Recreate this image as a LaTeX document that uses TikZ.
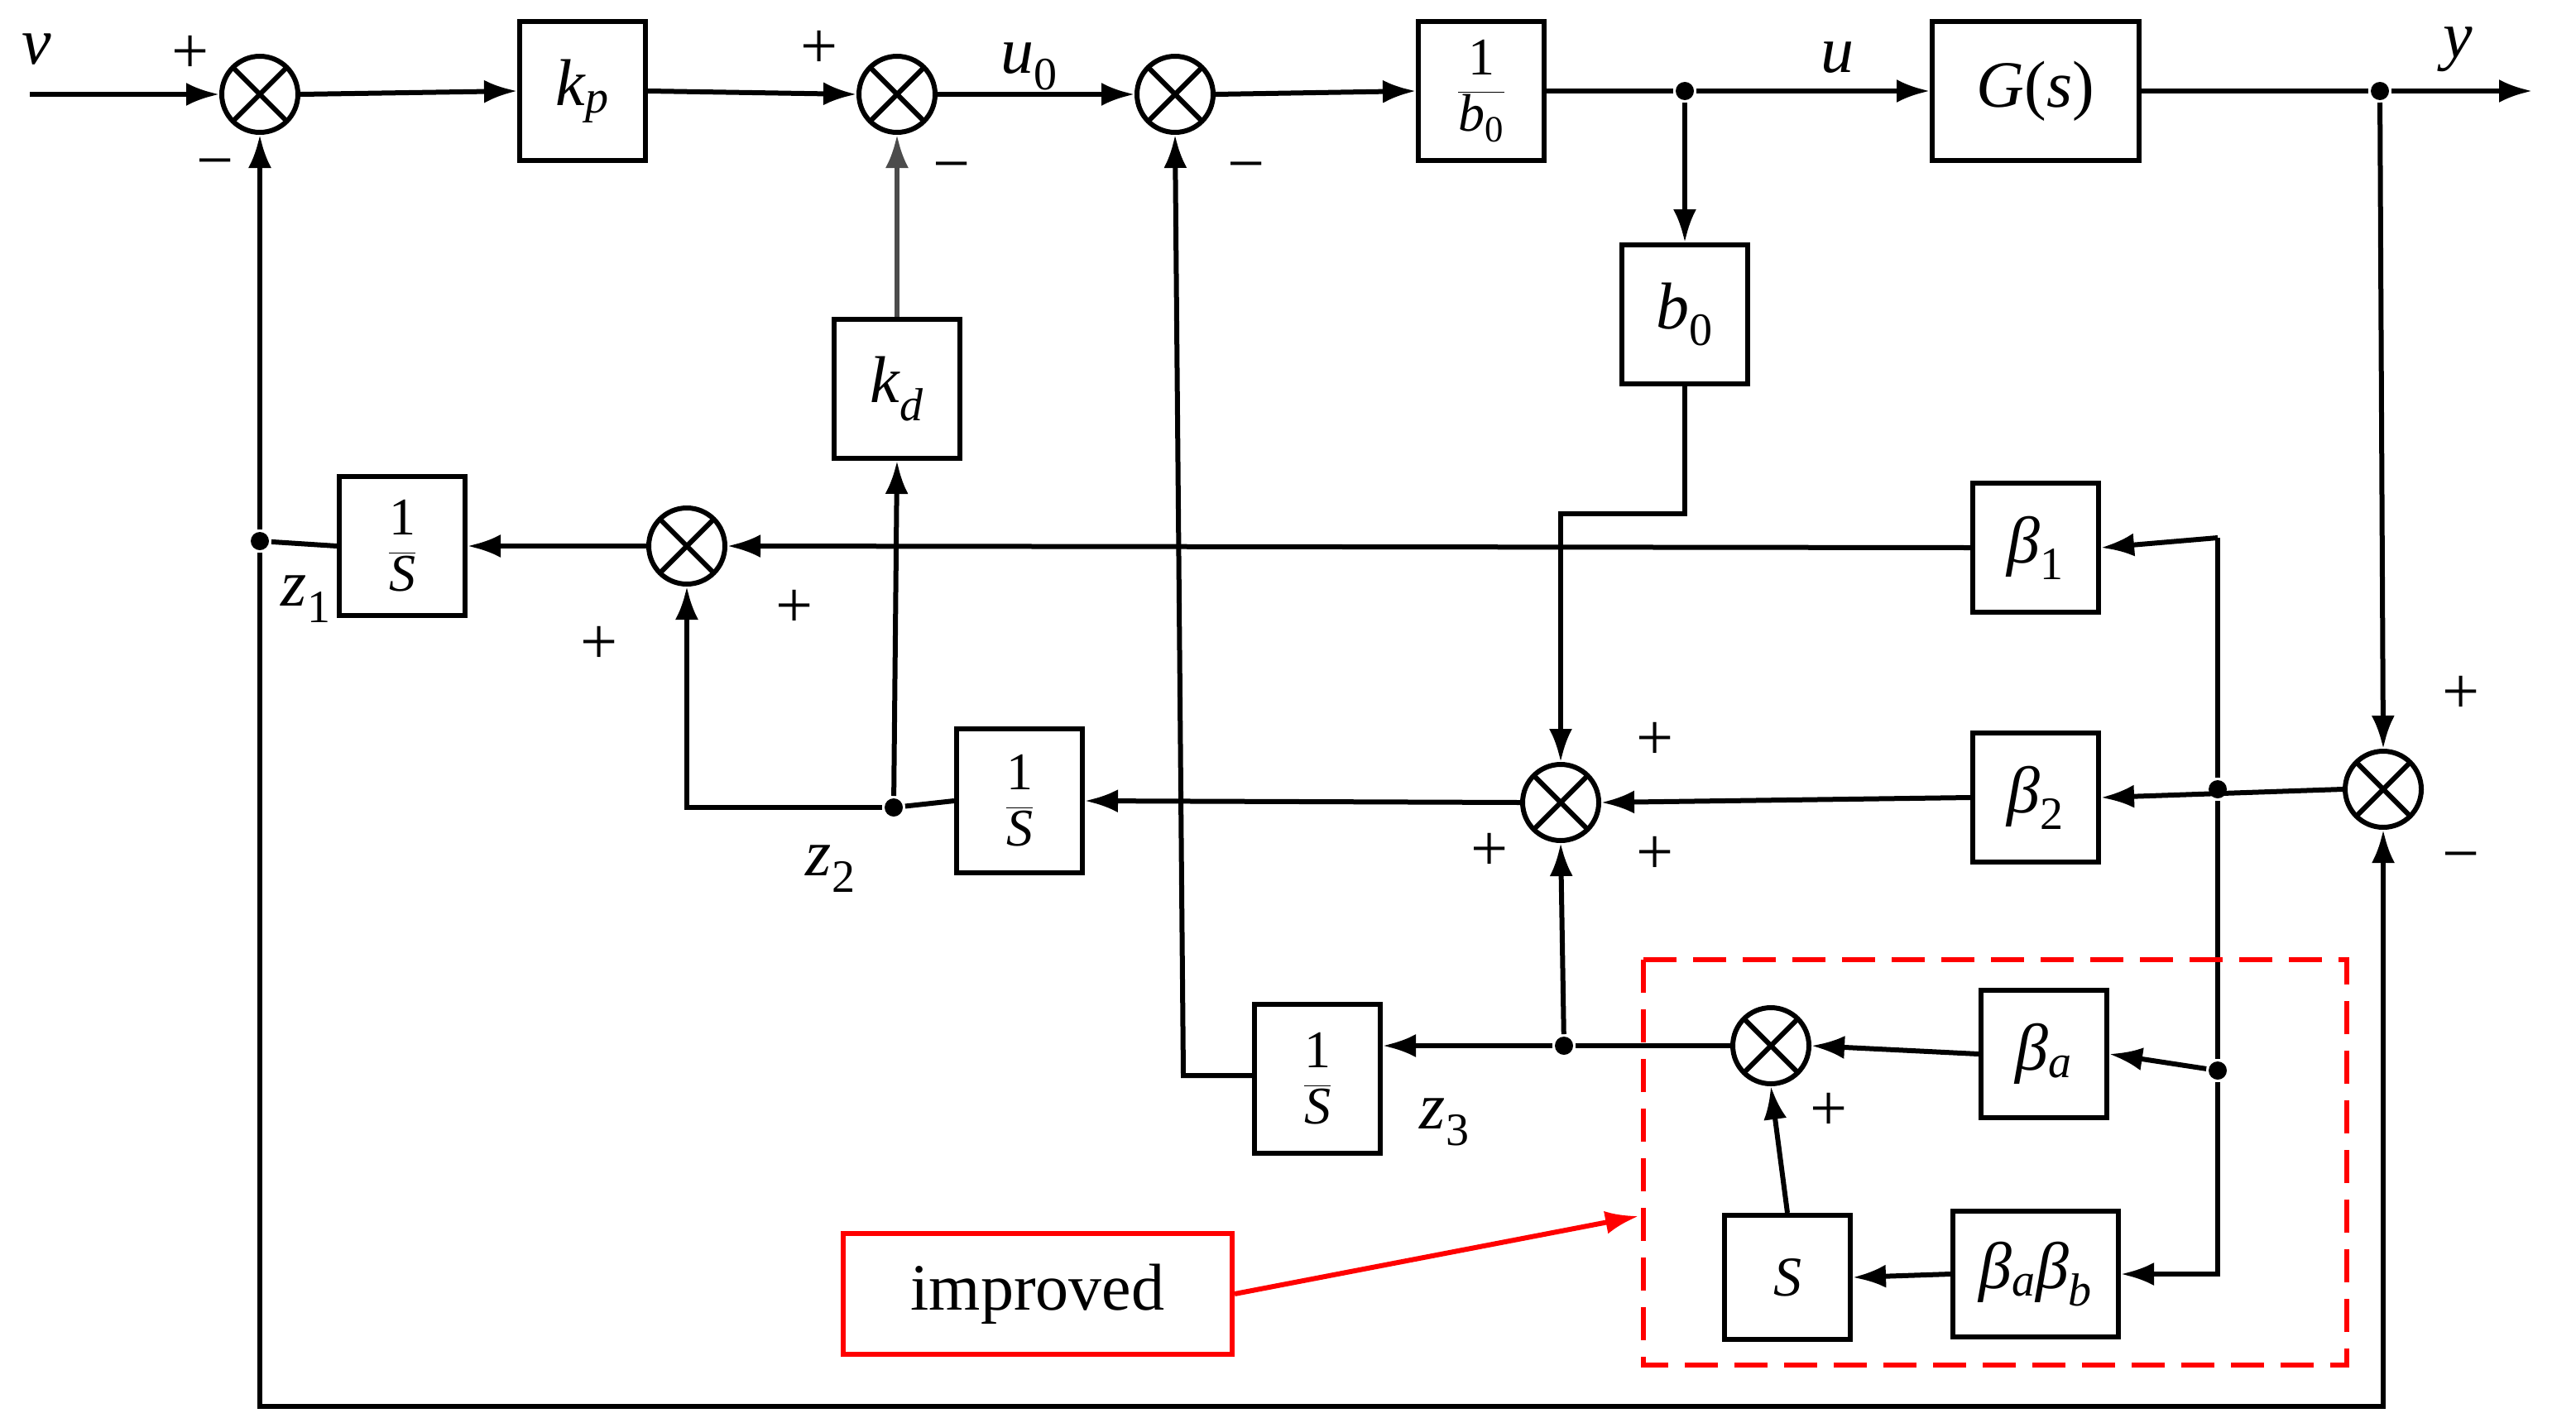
\documentclass[tikz,border=0pt]{standalone}
\usepackage{fontspec}
\setmainfont{Liberation Serif}
\usetikzlibrary{arrows.meta}
\newcommand{\fr}[2]{$\displaystyle\frac{\hbox{#1}}{\hbox{#2}}$}
\newcommand{\vi}[1]{\textit{#1}}
\newcommand{\sbs}[1]{\textsubscript{#1}}
\newcommand{\mns}{\char"2212}
\begin{document}
\begin{tikzpicture}[x=1pt,y=-1pt,line width=3pt,
  font=\fontsize{40}{44}\selectfont,
  arr/.style={-{Latex[length=20pt,width=14pt]}},
  sum/.style={circle,draw,minimum size=46pt,inner sep=0pt,
    path picture={\draw[line width=3pt] (path picture bounding box.north west)--(path picture bounding box.south east)
      (path picture bounding box.north east)--(path picture bounding box.south west);}},
  blk/.style={draw,minimum width=76pt,minimum height=84pt,inner sep=0pt},
  dot/.style={circle,fill,inner sep=0pt,minimum size=11pt},
  lbl/.style={inner sep=0pt}]
\useasboundingbox (0,0) rectangle (1556.5,856.5);
% summers
\node[sum] (s1) at (157,57) {};
\node[sum] (s2) at (542,57) {};
\node[sum] (s3) at (710,57) {};
\node[sum] (s4) at (415,330) {};
\node[sum] (s5) at (943,485) {};
\node[sum] (s6) at (1440,477) {};
\node[sum] (s7) at (1070,632) {};
% blocks
\node[blk] (kp) at (352,55) {\vi{k}\sbs{\vi{p}}};
\node[blk,font=\fontsize{32}{36}\selectfont] (ib0) at (895,55) {\fr{1}{\vi{b}\sbs{0}}};
\node[blk,minimum width=125pt] (G) at (1230,55) {\vi{G}(\vi{s})};
\node[blk] (b0) at (1018,190) {\vi{b}\sbs{0}};
\node[blk] (kd) at (542,235) {\vi{k}\sbs{\vi{d}}};
\node[blk,font=\fontsize{32}{36}\selectfont] (i1) at (243,330) {\fr{1}{\vi{S}}};
\node[blk,minimum height=78pt] (be1) at (1230,331) {\vi{β}\sbs{1}};
\node[blk,minimum height=78pt] (be2) at (1230,482) {\vi{β}\sbs{2}};
\node[blk,minimum height=87pt,font=\fontsize{32}{36}\selectfont] (i2) at (616,484) {\fr{1}{\vi{S}}};
\node[blk,minimum height=90pt,font=\fontsize{32}{36}\selectfont] (i3) at (796,652) {\fr{1}{\vi{S}}};
\node[blk,minimum height=77pt] (ba) at (1235,637) {\vi{β}\sbs{\vi{a}}};
\node[blk,minimum height=75pt,font=\fontsize{34}{38}\selectfont] (S) at (1080,772) {\vi{S}};
\node[blk,minimum width=100pt,minimum height=76pt] (bab) at (1230,770) {\vi{β}\sbs{\vi{a}}\vi{β}\sbs{\vi{b}}};
% junctions
\node[dot] (ju) at (1018,55) {};
\node[dot] (jy) at (1438,55) {};
\node[dot] (jz1) at (157,327) {};
\node[dot] (jz2) at (540,488) {};
\node[dot] (j6) at (1340,477) {};
\node[dot] (ja) at (1340,647) {};
\node[dot] (j3) at (945,632) {};
\coordinate (vin) at (18,57);
\coordinate (yout) at (1530,55);
\coordinate (impt) at (990,735);
% labels
\node[lbl] at (22,30) {\vi{v}};
\node[lbl] at (115,33) {+};
\node[lbl] at (130,103) {\mns};
\node[lbl] at (495,30) {+};
\node[lbl] at (575,105) {\mns};
\node[lbl] at (622,40) {\vi{u}\sbs{0}};
\node[lbl] at (753,105) {\mns};
\node[lbl] at (1110,35) {\vi{u}};
\node[lbl] at (1485,30) {\vi{y}};
\node[lbl] at (185,362) {\vi{z}\sbs{1}};
\node[lbl] at (362,390) {+};
\node[lbl] at (480,368) {+};
\node[lbl] at (1000,448) {+};
\node[lbl] at (1000,517) {+};
\node[lbl] at (900,515) {+};
\node[lbl] at (1487,420) {+};
\node[lbl] at (1487,522) {\mns};
\node[lbl] at (502,525) {\vi{z}\sbs{2}};
\node[lbl] at (873,678) {\vi{z}\sbs{3}};
\node[lbl] at (1105,672) {+};
% forward path
\draw[arr] (vin) -- (s1.west);
\draw[arr] (s1.east) -- (kp.west);
\draw[arr] (kp.east) -- (s2.west);
\draw[arr] (s2.east) -- (s3.west);
\draw[arr] (s3.east) -- (ib0.west);
\draw (ib0.east) -- (ju);
\draw[arr] (ju) -- (G.west);
\draw (G.east) -- (jy);
\draw[arr] (jy) -- (yout);
\draw[arr] (ju) -- (b0.north);
\draw[arr] (b0.south) -- ++(0,77) -| (s5.north);
\draw[arr] (jy) -- (s6.north);
% observer
\draw[arr] (s6.west) -- (be2.east);
\draw (j6) -- (j6 |- 0,325);
\draw[arr] (j6 |- 0,325) -- (be1.east);
\draw (j6) -- (ja);
\draw[arr] (ja) -- (ba.east);
\draw[arr] (ja) |- (bab.east);
\draw[arr] (be1.west) -- (s4.east);
\draw[arr] (s4.west) -- (i1.east);
\draw (i1.west) -- (jz1);
\draw[arr] (jz1) -- (s1.south);
\draw[arr] (jz1) -- (157,850) -| (s6.south);
\draw[arr] (be2.west) -- (s5.east);
\draw[arr] (s5.west) -- (i2.east);
\draw (i2.west) -- (jz2);
\draw[arr] (jz2) -| (s4.south);
\draw[arr] (jz2) -- (kd.south);
\draw[arr,draw=black!70] (kd.north) -- (s2.south);
\draw[arr] (ba.west) -- (s7.east);
\draw[arr] (bab.west) -- (S.east);
\draw[arr] (S.north) -- (s7.south);
\draw (s7.west) -- (j3);
\draw[arr] (j3) -- (i3.east |- j3);
\draw[arr] (j3) -- (s5.south);
\draw[arr] (i3.west |- 0,650) -- (715,650) -- (s3.south);
% improved
\draw[red,dashed,dash pattern=on 20pt off 10pt] (993,580) rectangle (1418,825);
\node[draw=red,minimum width=235pt,minimum height=73pt,inner sep=0pt] (imp) at (627,782) {improved};
\draw[red,arr] (imp.east) -- (impt);
\end{tikzpicture}
\end{document}
